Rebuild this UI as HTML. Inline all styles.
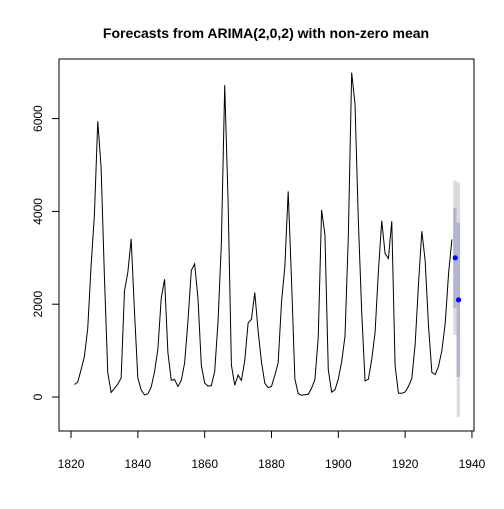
<!DOCTYPE html>
<html><head><meta charset="utf-8"><style>
body{margin:0;background:#fff}
text{font-family:"Liberation Sans",Arial,sans-serif}
</style></head><body>
<svg id="chart" width="504" height="504" xmlns="http://www.w3.org/2000/svg">
<rect width="504" height="504" fill="#fff"/>
<text x="266" y="38" font-size="14" font-weight="bold" text-anchor="middle">Forecasts from ARIMA(2,0,2) with non-zero mean</text>
<g id="bands"></g>
<path id="line" fill="none" stroke="#000" stroke-width="1"/>
<g id="pts"></g>
<rect x="59" y="59" width="415" height="372" fill="none" stroke="#000"/>
<g id="axes"></g>
</svg>
<script>
const startYear = 1821;
const values = [269,321,585,871,1475,2821,3928,5943,4950,2577,523,98,184,279,409,2285,2685,3409,1824,409,151,45,68,213,546,1033,2129,2536,957,361,377,225,360,731,1638,2725,2871,2119,684,299,236,245,552,1623,3311,6721,4254,687,255,473,358,784,1594,1676,2251,1426,756,299,201,229,469,736,2042,2811,4431,2511,389,73,39,49,59,188,377,1292,4031,3495,587,105,153,387,758,1307,3465,6991,6313,3794,1836,345,382,808,1388,2713,3800,3091,2985,3790,674,81,80,108,229,399,1132,2432,3574,2935,1537,529,485,662,1000,1590,2657,3396];
const fcYears = [1935,1936];
const fcMean = [3000,2094];
const lo95 = [1338,-432];
const hi95 = [4662,4619];
const lo80 = [1921,432];
const hi80 = [4079,3756];
const xTicks = [1820,1840,1860,1880,1900,1920,1940];
const yTicks = [0,2000,4000,6000];

const X = v => 59 + (v - 1816.4) * 3.341;
const Y = v => 397 - v * 0.0464;
const NS = "http://www.w3.org/2000/svg";
function mk(tag, attrs, parent){const e=document.createElementNS(NS,tag);for(const k in attrs)e.setAttribute(k,attrs[k]);parent.appendChild(e);return e;}

const bands = document.getElementById('bands');
fcYears.forEach((yr,i)=>{
  const a = mk('rect',{x:X(yr)-2,width:3.5,y:Y(hi95[i]),height:Y(lo95[i])-Y(hi95[i]),fill:'#dbdbdf'},bands);
  
  
  const b = mk('rect',{x:X(yr)-2,width:3.5,y:Y(hi80[i]),height:Y(lo80[i])-Y(hi80[i]),fill:'#b1b5d0'},bands);
  
  
});

document.getElementById('line').setAttribute('d', values.map((v,i)=>(i?'L':'M')+X(startYear+i).toFixed(2)+','+Y(v).toFixed(2)).join(''));

const pts = document.getElementById('pts');
fcYears.forEach((yr,i)=>{
  const c = mk('circle',{cx:X(yr),cy:Y(fcMean[i]),r:2.6,fill:'#0000ff'},pts);
  
  
});

const axes = document.getElementById('axes');
mk('line',{x1:X(xTicks[0]),x2:X(xTicks[xTicks.length-1]),y1:431,y2:431,stroke:'#000'},axes);
xTicks.forEach(t=>{
  mk('line',{x1:X(t),x2:X(t),y1:431,y2:438,stroke:'#000'},axes);
  const tx = mk('text',{x:X(t),y:468,'font-size':12,'text-anchor':'middle'},axes);
  tx.textContent=t;
  
  
});
mk('line',{x1:59,x2:59,y1:Y(yTicks[0]),y2:Y(yTicks[yTicks.length-1]),stroke:'#000'},axes);
yTicks.forEach(t=>{
  mk('line',{x1:52,x2:59,y1:Y(t),y2:Y(t),stroke:'#000'},axes);
  const tx = mk('text',{x:42,y:Y(t),'font-size':12,'text-anchor':'middle',transform:`rotate(-90 42 ${Y(t)})`},axes);
  tx.textContent=t;
  
  
});
</script>
</body></html>
